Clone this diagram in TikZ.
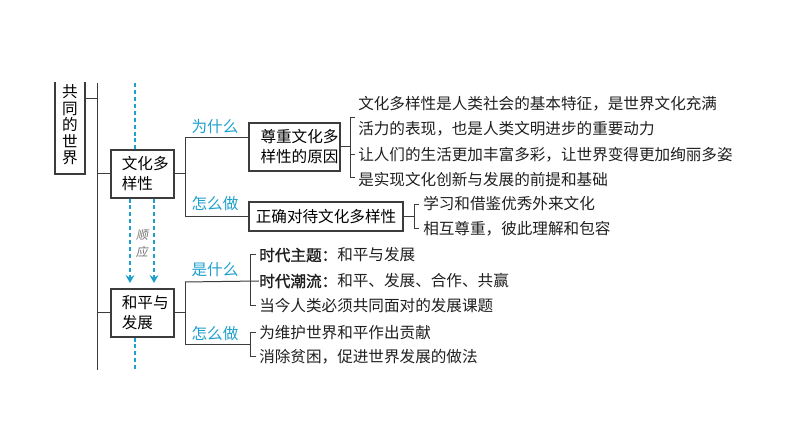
\documentclass[tikz,border=0pt]{standalone}
\usepackage{fontspec}
\newfontfamily\cjk{Noto Sans CJK SC}
\newfontfamily\cjkheavy{Noto Sans CJK SC}[FakeBold=1.5]
\newfontfamily\cjkslant{Noto Sans CJK SC}[FakeSlant=0.2]
\usetikzlibrary{arrows.meta}
\definecolor{linegray}{RGB}{60,60,60}
\definecolor{askcyan}{RGB}{30,160,205}

\begin{document}
\begin{tikzpicture}[x=0.75pt,y=-0.75pt,
    box/.style={draw=linegray,line width=0.8pt,rectangle,inner sep=0pt,align=left,
      font=\cjk\fontsize{11.7}{15}\selectfont},
    item/.style={anchor=west,inner sep=0pt,text=black!88,font=\cjk\fontsize{11.7}{14}\selectfont},
    ask/.style={inner sep=0pt,text=askcyan,font=\cjk\fontsize{11.7}{14}\selectfont},
    link/.style={draw=linegray,line width=0.75pt},
    guide/.style={draw=askcyan,line width=0.9pt,dash pattern=on 3pt off 2.2pt}]
    \useasboundingbox (0,0) rectangle (794,448);
    \clip (0,83) rectangle (794,448);

    \node[box,align=center,minimum width=22.5pt,minimum height=73.5pt,
      font=\cjk\fontsize{11.7}{12.4}\selectfont] (world) at (70,125) {共\\同\\的\\世\\界};
    \coordinate (trunktop) at (97,83);
    \coordinate (trunkend) at (97,370);
    \coordinate (wj) at (97,99);
    \draw[link] (trunktop) -- (trunkend);
    \draw[link] (world.east |- wj) -- (wj);

    \node[box,minimum width=47.25pt,minimum height=36pt,text width=3.1em] (culture) at (142.5,174) {文化多\\样性};
    \node[box,minimum width=47.25pt,minimum height=36pt,text width=3.1em] (peace) at (142.5,313) {和平与\\发展};
    \draw[link] (culture.west -| trunktop) -- (culture.west);
    \draw[link] (peace.west -| trunktop) -- (peace.west);

    \coordinate (g0) at (135,83);
    \coordinate (g1) at (135,370);
    \coordinate (a1) at (130,0);
    \coordinate (a2) at (154,0);
    \draw[guide] (g0) -- (g0 |- culture.north);
    \draw[guide] (g0 |- peace.south) -- (g1);
    \draw[guide,-{Stealth[length=6pt,width=6.5pt]},shorten >=4pt] (a1 |- culture.south) -- (a1 |- peace.north);
    \draw[guide,-{Stealth[length=6pt,width=6.5pt]},shorten >=4pt] (a2 |- culture.south) -- (a2 |- peace.north);
    \node[inner sep=0pt,align=center,text=black!55,font=\cjkslant\fontsize{9}{12.75}\selectfont] (comply) at (142,244) {顺\\应};

    \node[box,minimum width=68.25pt,minimum height=36pt,text width=5.1em] (reason) at (294.5,147) {尊重文化多\\样性的原因};
    \node[box,minimum width=115.5pt,minimum height=21.75pt] (treat) at (326,216.5) {正确对待文化多样性};
    \coordinate (cb) at (185,174);
    \coordinate (cbtop) at (185,138);
    \coordinate (cbbot) at (185,216.5);
    \draw[link] (culture.east) -- (cb);
    \draw[link] (reason.west |- cbtop) -- (cbtop) -- (cbbot) -- (treat.west);
    \node[ask] (why1) at (215,127) {为什么};
    \node[ask] (how1) at (215,204) {怎么做};

    \node[item] (r1) at (358,104) {文化多样性是人类社会的基本特征，是世界文化充满};
    \node[item] (r2) at (358,129) {活力的表现，也是人类文明进步的重要动力};
    \node[item] (r3) at (358,155) {让人们的生活更加丰富多彩，让世界变得更加绚丽多姿};
    \node[item] (r4) at (358,180) {是实现文化创新与发展的前提和基础};
    \coordinate (rb) at (350,147);
    \draw[link] (reason.east |- rb) -- (rb);
    \draw[link] (355,118) -- (350,118) -- (350,178) -- (355,178);
    \draw[link] (350,155) -- (355,155);

    \node[item] (t1) at (423,204) {学习和借鉴优秀外来文化};
    \node[item] (t2) at (423,229) {相互尊重，彼此理解和包容};
    \coordinate (tb) at (414,216.5);
    \draw[link] (treat.east) -- (tb);
    \draw[link] (419,205) -- (414,205) -- (414,229) -- (419,229);

    \coordinate (pb) at (185,313);
    \coordinate (pbtop) at (185,282);
    \coordinate (pbbot) at (185,345);
    \draw[link] (peace.east) -- (pb);
    \draw[link] (pbtop) -- (pbbot);
    \node[ask] (what2) at (215,270) {是什么};
    \node[ask] (how2) at (215,334) {怎么做};

    \node[item] (p1) at (259,255) {{\cjkheavy 时代主题：}和平与发展};
    \node[item] (p2) at (259,281) {{\cjkheavy 时代潮流：}和平、发展、合作、共赢};
    \node[item] (p3) at (259,306) {当今人类必须共同面对的发展课题};
    \draw[link] (pbtop) -- (p2.west);
    \draw[link] (256,255) -- (250,255) -- (250,306) -- (256,306);

    \node[item] (q1) at (259,333) {为维护世界和平作出贡献};
    \node[item] (q2) at (259,357) {消除贫困，促进世界发展的做法};
    \coordinate (qb) at (250,345);
    \draw[link] (pbbot) -- (qb);
    \draw[link] (256,333) -- (250,333) -- (250,357) -- (256,357);
\end{tikzpicture}
\end{document}
